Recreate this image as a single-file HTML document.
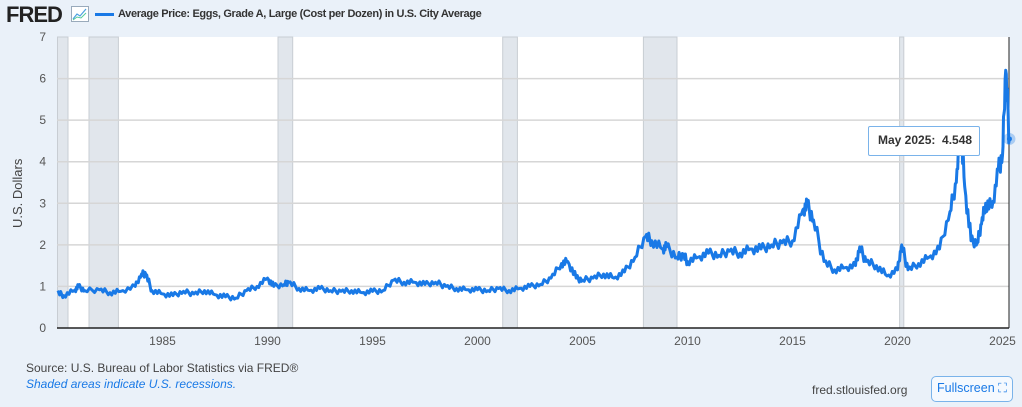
<!DOCTYPE html>
<html><head><meta charset="utf-8"><style>
body{margin:0;width:1022px;height:407px;background:#eaf1f9;font-family:"Liberation Sans",sans-serif;overflow:hidden;position:relative}
.t{position:absolute;white-space:nowrap}
</style></head><body>
<div class="t" style="left:6px;top:2px;font-size:22px;font-weight:bold;letter-spacing:-1px;color:#222">FRED</div>
<svg class="t" style="left:71px;top:6px" width="18" height="16"><rect x="0.5" y="0.5" width="17" height="15" fill="#fff" stroke="#9ab"/><polyline points="2,13 6,8 9,10 15,3" fill="none" stroke="#4a9fe0" stroke-width="1.2"/><polyline points="2,14 6,11 10,12 15,7" fill="none" stroke="#5c9" stroke-width="1"/></svg>
<div class="t" style="left:95px;top:13px;width:19px;height:3px;background:#1979e6"></div>
<div class="t" style="left:118px;top:8px;font-size:11px;font-weight:bold;letter-spacing:-0.35px;color:#333">Average Price: Eggs, Grade A, Large (Cost per Dozen) in U.S. City Average</div>
<div class="t" style="left:10px;top:228px;transform:rotate(-90deg);transform-origin:0 0;font-size:13px;color:#444">U.S. Dollars</div>
<svg class="t" style="left:0;top:0" width="1022" height="407" id="s"></svg>
<div class="t" style="left:868px;top:126px;width:110px;height:28px;background:#fff;border:1px solid #7ab3ea;border-radius:2px"></div>
<div class="t" style="left:878px;top:133px;font-size:12px;font-weight:bold;color:#333">May 2025:&nbsp; 4.548</div>
<div class="t" style="left:26px;top:361px;font-size:12px;color:#444">Source: U.S. Bureau of Labor Statistics via FRED®</div>
<div class="t" style="left:26px;top:377px;font-size:12px;font-style:italic;color:#1979e6">Shaded areas indicate U.S. recessions.</div>
<div class="t" style="left:812px;top:383px;font-size:12px;color:#444">fred.stlouisfed.org</div>
<div class="t" style="left:931px;top:376px;width:80px;height:24px;border:1px solid #7ab3ea;border-radius:5px;background:#f5f9fe"></div>
<div class="t" style="left:937px;top:381px;font-size:12.5px;color:#1979e6">Fullscreen ⛶</div>
<script>
const L=57,R=1009,T=37,B=328;
const X=y=>57.5+(y-1980)*21.0, Y=v=>B-v*41.57;
let s='';
[[1980,1980.5],[1981.5,1982.9],[1990.5,1991.2],[2001.2,2001.9],[2007.9,2009.5],[2020.1,2020.3]].forEach(r=>{s+=`<rect x="${X(r[0])}" y="${T}" width="${X(r[1])-X(r[0])}" height="${B-T}" fill="#e1e6ec" stroke="#c8cdd3"/>`});
s=`<rect x="${L}" y="${T}" width="${R-L}" height="${B-T}" fill="#fff"/>`+s;
for(let v=0;v<=7;v++){if(v>0&&v<7)s+=`<line x1="${L}" x2="${R}" y1="${Y(v)}" y2="${Y(v)}" stroke="#d6d6d6" stroke-width="1.5"/>`;s+=`<text x="46" y="${Y(v)+4}" font-size="12" fill="#555" text-anchor="end">${v}</text>`}
for(let y=1985;y<=2025;y+=5)s+=`<text x="${X(y)}" y="345" font-size="12" fill="#555" text-anchor="middle">${y}</text>`;
s+=`<line x1="${L}" x2="${R}" y1="${B}" y2="${B}" stroke="#222" stroke-width="1.5"/><line x1="${R}" x2="${R}" y1="${T}" y2="${B}" stroke="#222"/>`;
const d=[[1980,.85],[1980.3,.78],[1980.8,.9],[1981,1.0],[1981.3,.9],[1982,.92],[1982.5,.85],[1983,.88],[1983.7,1.0],[1984.0,1.3],[1984.2,1.3],[1984.5,.9],[1985,.82],[1985.5,.78],[1986,.88],[1986.5,.82],[1987,.9],[1987.5,.8],[1988,.75],[1988.5,.72],[1989,.9],[1989.5,1.0],[1990,1.2],[1990.3,1.0],[1990.8,1.05],[1991,1.1],[1991.5,.95],[1992,.9],[1992.5,.95],[1993,.9],[1993.5,.88],[1994,.9],[1994.5,.85],[1995,.88],[1995.5,.9],[1996,1.15],[1996.5,1.1],[1997,1.1],[1997.5,1.05],[1998,1.1],[1998.5,1.0],[1999,.95],[1999.5,.92],[2000,.92],[2000.5,.9],[2001,.95],[2001.5,.9],[2002,.95],[2002.5,1.0],[2003,1.05],[2003.5,1.2],[2004,1.55],[2004.3,1.6],[2004.7,1.2],[2005,1.15],[2005.5,1.2],[2006,1.3],[2006.5,1.2],[2007,1.35],[2007.5,1.7],[2008,2.2],[2008.3,2.1],[2008.8,1.9],[2009,1.95],[2009.5,1.7],[2009.8,1.75],[2010,1.6],[2010.5,1.7],[2011,1.8],[2011.5,1.75],[2012,1.85],[2012.5,1.8],[2013,1.9],[2013.5,1.9],[2014,2.0],[2014.5,2.05],[2015,2.1],[2015.5,2.85],[2015.7,2.95],[2016,2.6],[2016.5,1.6],[2017,1.4],[2017.5,1.45],[2018,1.5],[2018.2,1.95],[2018.5,1.6],[2019,1.5],[2019.5,1.25],[2020,1.4],[2020.2,2.0],[2020.5,1.4],[2021,1.55],[2021.5,1.7],[2022,1.9],[2022.5,2.8],[2022.8,3.5],[2023.0,4.8],[2023.2,3.4],[2023.5,2.1],[2023.8,2.05],[2024,2.5],[2024.2,3.0],[2024.5,2.9],[2024.8,3.8],[2025.0,4.15],[2025.15,6.2],[2025.33,4.55]];
let p=[];d.forEach((q,i)=>{p.push(X(q[0]).toFixed(1)+','+Y(q[1]).toFixed(1));if(i<d.length-1){const n=d[i+1];for(let k=1;k<6;k++){const t=k/6,yy=q[0]+(n[0]-q[0])*t,vv=q[1]+(n[1]-q[1])*t+(((i*7+k*3)%5)-2)*0.03*Math.max(1,q[1]);p.push(X(yy).toFixed(1)+','+Y(vv).toFixed(1))}}});
s+=`<polyline points="${p.join(' ')}" fill="none" stroke="#1979e6" stroke-width="3" stroke-linejoin="round"/>`;
s+=`<circle cx="${X(2025.33)}" cy="${Y(4.548)}" r="6" fill="#1979e6" opacity=".3"/><circle cx="${X(2025.33)}" cy="${Y(4.548)}" r="2.5" fill="#1979e6"/>`;
document.getElementById('s').innerHTML=s;
</script>
</body></html>
